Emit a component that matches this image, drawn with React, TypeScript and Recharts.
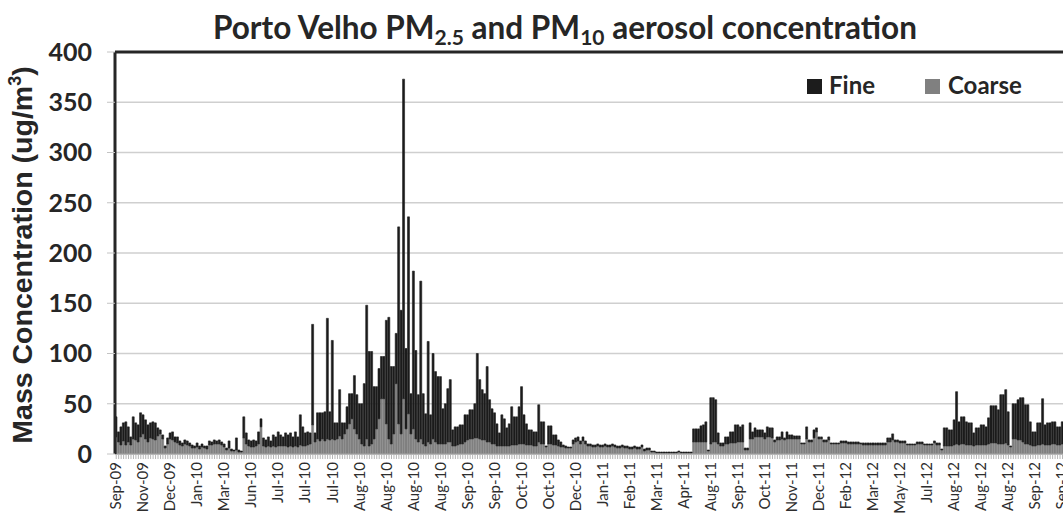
import React from 'react';
import { BarChart, Bar, XAxis, YAxis, CartesianGrid, ReferenceLine, Legend } from 'recharts';

// One label every 11 samples
const tickLabels = [
  'Sep-09', 'Nov-09', 'Dec-09', 'Jan-10', 'Mar-10', 'Jun-10', 'Jul-10', 'Jul-10', 'Jul-10',
  'Aug-10', 'Aug-10', 'Aug-10', 'Aug-10', 'Sep-10', 'Sep-10', 'Oct-10', 'Oct-10', 'Dec-10',
  'Jan-11', 'Feb-11', 'Mar-11', 'Apr-11', 'Aug-11', 'Sep-11', 'Oct-11', 'Nov-11', 'Dec-11',
  'Feb-12', 'Mar-12', 'May-12', 'Jul-12', 'Aug-12', 'Aug-12', 'Aug-12', 'Sep-12', 'Sep-12',
];

const fine = [
  20, 10, 18, 18, 23, 15, 8, 22, 17, 17, 24,
  19, 19, 17, 15, 17, 17, 8, 4, 4, 2, 6,
  6, 8, 5, 6, 4, 3, 4, 4, 3, 3, 2,
  4, 3, 3, 2, 3, 4, 3, 4, 3, 4, 3,
  3, 2, 7, 2, 1, 12, 2, 1, 21, 11, 6,
  6, 7, 5, 12, 8, 8, 7, 9, 6, 11, 10,
  14, 11, 9, 13, 12, 13, 10, 14, 10, 30, 19,
  13, 13, 11, 100, 9, 26, 28, 26, 29, 120, 28,
  98, 17, 16, 46, 16, 11, 22, 30, 25, 53, 39,
  35, 40, 62, 133, 94, 92, 52, 42, 50, 42, 42,
  103, 121, 77, 67, 50, 196, 123, 318, 80, 196, 40,
  157, 88, 47, 157, 50, 32, 100, 29, 85, 70, 67,
  67, 35, 40, 53, 62, 16, 19, 18, 19, 19, 27,
  25, 29, 29, 34, 84, 59, 50, 46, 75, 42, 35,
  31, 22, 13, 31, 27, 18, 22, 38, 28, 28, 37,
  57, 29, 21, 15, 15, 14, 14, 37, 22, 22, 1,
  18, 18, 10, 10, 6, 5, 2, 2, 1, 1, 4,
  4, 4, 3, 4, 3, 2, 2, 2, 2, 2, 2,
  2, 2, 2, 2, 2, 2, 2, 2, 2, 2, 2,
  2, 2, 2, 2, 2, 2, 2, 2, 2, 1, 1,
  1, 1, 1, 1, 1, 1, 1, 1, 1, 1, 1,
  1, 1, 1, 1, 13, 13, 13, 16, 17, 20, 1,
  46, 44, 42, 11, 3, 3, 7, 7, 11, 11, 18,
  17, 15, 17, 2, 2, 16, 7, 9, 7, 7, 7,
  6, 10, 9, 10, 2, 3, 3, 7, 2, 7, 4,
  4, 3, 3, 3, 1, 1, 12, 2, 2, 8, 4,
  2, 2, 2, 2, 3, 1, 1, 1, 1, 2, 2,
  2, 2, 2, 2, 2, 2, 1, 2, 2, 2, 2,
  2, 2, 2, 2, 2, 2, 4, 4, 6, 2, 2,
  2, 2, 2, 1, 1, 1, 1, 2, 2, 2, 1,
  1, 1, 1, 2, 2, 2, 1, 18, 18, 16, 16,
  25, 52, 23, 27, 27, 23, 22, 22, 13, 17, 17,
  20, 20, 18, 26, 37, 37, 37, 34, 49, 49, 53,
  33, 1, 35, 35, 40, 42, 44, 39, 39, 23, 14,
  14, 22, 22, 45, 20, 22, 22, 22, 22, 18, 18,
  22, 22, 20, 19, 23, 20,
];

const coarse = [
  17, 12, 9, 13, 9, 12, 9, 15, 14, 12, 17,
  20, 15, 12, 16, 15, 14, 18, 20, 15, 6, 10,
  15, 14, 12, 11, 9, 8, 10, 9, 8, 6, 6,
  7, 5, 7, 6, 5, 9, 9, 10, 10, 10, 9,
  7, 4, 6, 3, 3, 4, 2, 2, 16, 10, 8,
  7, 7, 8, 10, 27, 8, 7, 8, 7, 8, 7,
  8, 8, 8, 8, 7, 8, 7, 8, 7, 9, 8,
  8, 9, 10, 29, 12, 15, 13, 15, 13, 15, 14,
  15, 14, 15, 18, 15, 20, 25, 30, 35, 25, 20,
  15, 10, 8, 15, 8, 10, 15, 25, 35, 55, 55,
  30, 15, 10, 20, 70, 30, 20, 55, 25, 40, 20,
  25, 15, 12, 15, 10, 8, 12, 10, 15, 12, 10,
  10, 10, 10, 12, 12, 8, 8, 9, 10, 10, 12,
  14, 15, 15, 16, 16, 15, 14, 14, 12, 12, 10,
  10, 8, 8, 8, 8, 8, 8, 9, 9, 9, 10,
  10, 10, 9, 9, 9, 8, 8, 12, 10, 10, 7,
  10, 10, 9, 9, 8, 7, 7, 6, 6, 6, 10,
  12, 13, 10, 13, 10, 8, 8, 7, 7, 8, 7,
  7, 8, 7, 7, 8, 7, 6, 6, 7, 6, 6,
  5, 5, 6, 5, 5, 7, 3, 4, 4, 2, 2,
  1, 1, 1, 1, 1, 1, 1, 1, 1, 2, 1,
  1, 1, 1, 1, 12, 12, 12, 12, 12, 12, 3,
  10, 12, 12, 10, 8, 8, 10, 10, 11, 11, 11,
  12, 12, 12, 4, 4, 15, 15, 17, 17, 17, 17,
  15, 17, 17, 16, 12, 14, 14, 15, 14, 15, 15,
  15, 15, 15, 15, 10, 10, 15, 12, 12, 16, 22,
  15, 15, 12, 12, 14, 10, 10, 10, 10, 11, 11,
  11, 10, 10, 10, 10, 10, 10, 9, 9, 9, 9,
  9, 9, 9, 9, 9, 9, 12, 12, 14, 12, 12,
  11, 11, 11, 9, 9, 9, 9, 10, 10, 10, 9,
  9, 9, 9, 11, 9, 9, 4, 8, 8, 8, 8,
  9, 10, 9, 10, 10, 9, 9, 9, 8, 9, 9,
  9, 9, 9, 10, 11, 11, 11, 10, 10, 10, 11,
  9, 7, 15, 15, 14, 14, 12, 10, 10, 9, 8,
  8, 9, 9, 10, 9, 9, 9, 10, 10, 9, 9,
  10, 10, 10, 9, 10, 10,
];

const yTicks = [0, 50, 100, 150, 200, 250, 300, 350, 400];

const LABEL_EVERY = 11;
const FINE_COLOR = '#1c1c1c';
const COARSE_COLOR = '#808080';
const TEXT_COLOR = '#262626';

const data = fine.map((f, i) => ({ idx: i, fine: f, coarse: coarse[i] }));

const XTick = (props: any) => {
  const { x, y, payload } = props;
  const i = Number(payload.value);
  if (i % LABEL_EVERY !== 0) return <g />;
  const label = tickLabels[i / LABEL_EVERY];
  return (
    <text
      transform={`translate(${x + 5},${y + 1}) rotate(-90)`}
      textAnchor="end"
      fontFamily="Lato"
      fontSize={15}
      fill="#2e2e2e"
    >
      {label}
    </text>
  );
};

const YLabel = () => (
  <text
    transform="translate(32,255) rotate(-90)"
    textAnchor="middle"
    fontFamily="Liberation Sans"
    fontWeight={700}
    fontSize={28.5}
    fill={TEXT_COLOR}
  >
    Mass Concentration (ug/m
    <tspan dy={-11} fontSize={18}>3</tspan>
    <tspan dy={11}>)</tspan>
  </text>
);

const LegendContent = () => (
  <svg width={260} height={30} style={{ display: 'block', overflow: 'visible' }}>
    <rect x={0} y={7} width={15} height={15} fill={FINE_COLOR} />
    <text x={22} y={22} fontFamily="Lato" fontWeight={700} fontSize={24} fill={TEXT_COLOR}>Fine</text>
    <rect x={118} y={7} width={15} height={15} fill={COARSE_COLOR} />
    <text x={141} y={22} fontFamily="Lato" fontWeight={700} fontSize={24} fill={TEXT_COLOR}>Coarse</text>
  </svg>
);

export default function App() {
  return (
    <div
      style={{
        position: 'fixed',
        left: 0,
        top: 0,
        width: 1063,
        height: 514,
        overflow: 'hidden',
        background: '#ffffff',
      }}
    >
      <svg
        width={1063}
        height={50}
        style={{ position: 'absolute', left: 0, top: 0, zIndex: 2, pointerEvents: 'none' }}
      >
        <text x={565} y={39} textAnchor="middle" fontFamily="Lato" fontWeight={700} fontSize={31.5} fill={TEXT_COLOR}>
          Porto Velho PM
          <tspan fontSize={21} dy={6}>2.5</tspan>
          <tspan dy={-6}> and PM</tspan>
          <tspan fontSize={21} dy={6}>10</tspan>
          <tspan dy={-6}> aerosol concentration</tspan>
        </text>
      </svg>
      <BarChart
        width={1076}
        height={514}
        data={data}
        margin={{ top: 52, right: 0, bottom: 0, left: 0 }}
        barCategoryGap={0}
        barGap={0}
      >
        <CartesianGrid vertical={false} stroke="#cfcfcf" strokeWidth={1.5} />
        <XAxis
          dataKey="idx"
          type="category"
          interval={0}
          height={60}
          tick={<XTick />}
          tickSize={5}
          axisLine={{ stroke: '#a6a6a6' }}
          tickLine={{ stroke: '#b5b5b5' }}
        />
        <YAxis
          width={115}
          domain={[0, 400]}
          ticks={yTicks}
          interval={0}
          tickSize={8}
          tickMargin={15}
          tick={{ fontFamily: 'Lato', fontWeight: 700, fontSize: 25, fill: TEXT_COLOR }}
          axisLine={{ stroke: '#262626', strokeWidth: 3 }}
          tickLine={{ stroke: '#c4c4c4' }}
          label={<YLabel />}
        />
        <ReferenceLine y={400} stroke="#262626" strokeWidth={3} />
        <Legend
          layout="horizontal"
          verticalAlign="middle"
          align="center"
          content={<LegendContent />}
          wrapperStyle={{ position: 'absolute', left: 807, top: 72, width: 260, height: 30 }}
        />
        <Bar
          dataKey="coarse"
          name="Coarse"
          stackId="pm"
          fill={COARSE_COLOR}
          stroke={COARSE_COLOR}
          strokeWidth={0.6}
          isAnimationActive={false}
        />
        <Bar
          dataKey="fine"
          name="Fine"
          stackId="pm"
          fill={FINE_COLOR}
          stroke={FINE_COLOR}
          strokeWidth={0.6}
          isAnimationActive={false}
        />
      </BarChart>
    </div>
  );
}
